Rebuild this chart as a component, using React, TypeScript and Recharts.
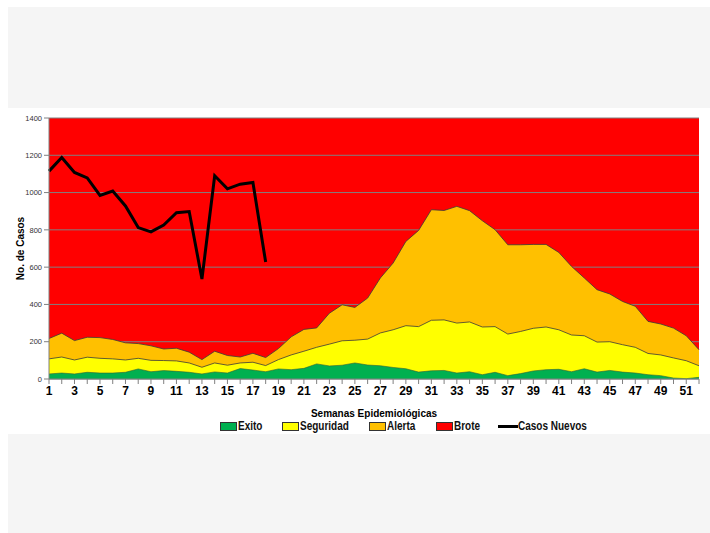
import {
  ComposedChart,
  Area,
  Line,
  XAxis,
  YAxis,
  CartesianGrid,
} from "recharts";

const weeks = [
  1, 2, 3, 4, 5, 6, 7, 8, 9, 10, 11, 12, 13, 14, 15, 16, 17, 18, 19, 20, 21, 22, 23, 24, 25, 26,
  27, 28, 29, 30, 31, 32, 33, 34, 35, 36, 37, 38, 39, 40, 41, 42, 43, 44, 45, 46, 47, 48, 49, 50,
  51, 52,
];

// upper limit of each zone
const exito = [
  27, 32, 27, 36, 32, 32, 36, 54, 39, 45, 41, 36, 27, 38, 32, 56, 48, 39, 54, 50, 57, 81, 70, 74,
  86, 75, 71, 62, 55, 37, 44, 46, 32, 39, 23, 36, 18, 29, 43, 50, 52, 39, 55, 37, 46, 37, 32, 23,
  18, 5, 2, 9,
];
const seguridad = [
  108, 118, 102, 117, 111, 108, 102, 111, 100, 99, 97, 86, 63, 86, 74, 86, 90, 72, 104, 129, 149,
  170, 187, 205, 208, 214, 247, 264, 286, 281, 315, 317, 300, 306, 279, 281, 241, 255, 272, 279,
  264, 236, 232, 198, 200, 184, 170, 137, 129, 113, 98, 71,
];
const alerta = [
  217, 246, 206, 224, 222, 212, 194, 190, 178, 161, 165, 144, 104, 149, 126, 118, 138, 115, 163,
  226, 266, 274, 353, 398, 384, 434, 542, 622, 738, 797, 908, 904, 926, 903, 849, 801, 720, 720,
  722, 722, 679, 604, 542, 479, 456, 416, 390, 309, 295, 273, 232, 157,
];
const casosNuevos = [
  1115, 1188, 1108, 1079, 985, 1008, 928, 812, 789, 826, 892, 898, 536, 1090, 1020, 1045, 1054,
  627,
];

const yTicks = [0, 200, 400, 600, 800, 1000, 1200, 1400];

const legendItems = [
  { name: "Exito", color: "#00b050", type: "box", left: 220 },
  { name: "Seguridad", color: "#ffff00", type: "box", left: 282 },
  { name: "Alerta", color: "#ffc000", type: "box", left: 369 },
  { name: "Brote", color: "#ff0000", type: "box", left: 436 },
  { name: "Casos Nuevos", color: "#000000", type: "line", left: 498 },
];

const data = weeks.map((w, i) => ({
  week: w,
  exito: exito[i],
  seguridad: seguridad[i],
  alerta: alerta[i],
  casos: i < casosNuevos.length ? casosNuevos[i] : null,
}));

const sans = '"Liberation Sans", Arial, sans-serif';

export default function App() {
  return (
    <div
      style={{
        position: "fixed",
        left: 0,
        top: 0,
        width: 710,
        height: 533,
        background: "#ffffff",
        overflow: "hidden",
      }}
    >
      <div
        style={{ position: "absolute", left: 8, top: 7, width: 702, height: 101, background: "#f5f5f5" }}
      />
      <div
        style={{ position: "absolute", left: 8, top: 434, width: 702, height: 99, background: "#f5f5f5" }}
      />
      <div style={{ position: "absolute", left: 0, top: 0 }}>
        <ComposedChart
          width={710}
          height={533}
          data={data}
          margin={{ top: 118, right: 11, bottom: 116, left: 0 }}
        >
          <CartesianGrid
            vertical={false}
            stroke="#808080"
            strokeWidth={1}
            fill="#ff0000"
            fillOpacity={1}
          />
          <XAxis
            dataKey="week"
            type="number"
            domain={[1, 52]}
            ticks={weeks}
            interval={0}
            height={38}
            tickSize={5}
            tickLine={{ stroke: "#808080" }}
            axisLine={{ stroke: "#808080" }}
            tickFormatter={(v: number) => (v % 2 === 1 ? String(v) : "")}
            tick={{ fill: "#000", fontSize: 12, fontWeight: 700, fontFamily: sans }}
            label={{
              value: "Semanas Epidemiológicas",
              position: "insideBottom",
              offset: 0,
              style: { fill: "#000", fontSize: 10, fontWeight: 700, fontFamily: sans },
            }}
          />
          <YAxis
            domain={[0, 1400]}
            ticks={yTicks}
            width={49}
            tickSize={5}
            tickLine={{ stroke: "#808080" }}
            axisLine={{ stroke: "#808080" }}
            tick={{ fill: "#333", fontSize: 7.5, fontFamily: sans }}
            label={{
              value: "No. de Casos",
              angle: -90,
              position: "insideLeft",
              offset: 20,
              style: { textAnchor: "middle", fill: "#000", fontSize: 10, fontWeight: 700, fontFamily: sans },
            }}
          />
          <YAxis
            yAxisId="frame"
            orientation="right"
            domain={[0, 1400]}
            width={0}
            tick={false}
            tickLine={false}
            axisLine={{ stroke: "#808080" }}
          />
          <Area
            type="linear"
            dataKey="alerta"
            name="Alerta"
            stroke="#3a3a3a"
            strokeWidth={0.8}
            fill="#ffc000"
            fillOpacity={1}
            isAnimationActive={false}
          />
          <Area
            type="linear"
            dataKey="seguridad"
            name="Seguridad"
            stroke="#3a3a3a"
            strokeWidth={0.8}
            fill="#ffff00"
            fillOpacity={1}
            isAnimationActive={false}
          />
          <Area
            type="linear"
            dataKey="exito"
            name="Exito"
            stroke="#2f5e3a"
            strokeWidth={0.6}
            fill="#00b050"
            fillOpacity={1}
            isAnimationActive={false}
          />
          <Line
            type="linear"
            dataKey="casos"
            name="Casos Nuevos"
            stroke="#000000"
            strokeWidth={3}
            dot={false}
            connectNulls={false}
            isAnimationActive={false}
          />
        </ComposedChart>
      </div>
      {legendItems.map((it) => (
        <div
          key={it.name}
          style={{
            position: "absolute",
            left: it.left,
            top: 419,
            height: 14,
            display: "flex",
            alignItems: "center",
            fontFamily: sans,
            fontWeight: 700,
            fontSize: 12.5,
            color: "#111",
            whiteSpace: "nowrap",
          }}
        >
          {it.type === "box" ? (
            <span
              style={{
                display: "inline-block",
                width: 15,
                height: 7,
                background: it.color,
                border: "1px solid #333",
                marginRight: 1,
              }}
            />
          ) : (
            <span style={{ display: "inline-block", width: 20, height: 3, background: it.color }} />
          )}
          <span style={{ display: "inline-block", transform: "scaleX(0.8)", transformOrigin: "left center" }}>
            {it.name}
          </span>
        </div>
      ))}
    </div>
  );
}
